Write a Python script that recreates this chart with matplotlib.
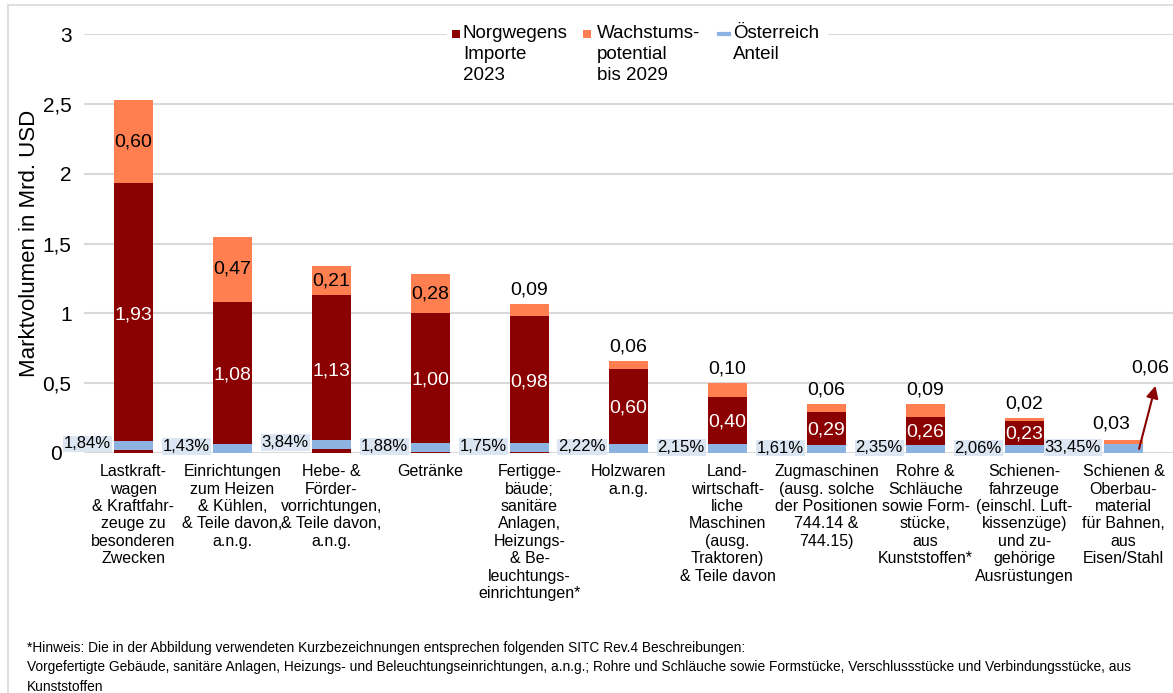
import matplotlib
matplotlib.use('Agg')
import matplotlib.pyplot as plt
from matplotlib.patches import Rectangle
from matplotlib.lines import Line2D
from matplotlib.transforms import ScaledTranslation
import numpy as np

plt.rcParams['font.family'] = ['Liberation Sans', 'DejaVu Sans']

# ============================================================
# DATA
# ============================================================
categories = [
    'Lastkraft-\nwagen\n& Kraftfahr-\nzeuge zu\nbesonderen\nZwecken',
    'Einrichtungen\nzum Heizen\n& Kühlen,\n& Teile davon,\na.n.g.',
    'Hebe- &\nFörder-\nvorrichtungen,\n& Teile davon,\na.n.g.',
    'Getränke',
    'Fertigge-\nbäude;\nsanitäre\nAnlagen,\nHeizungs-\n& Be-\nleuchtungs-\neinrichtungen*',
    'Holzwaren\na.n.g.',
    'Land-\nwirtschaft-\nliche\nMaschinen\n(ausg.\nTraktoren)\n& Teile davon',
    'Zugmaschinen\n(ausg. solche\nder Positionen\n744.14 &\n744.15)',
    'Rohre &\nSchläuche\nsowie Form-\nstücke,\naus\nKunststoffen*',
    'Schienen-\nfahrzeuge\n(einschl. Luft-\nkissenzüge)\nund zu-\ngehörige\nAusrüstungen',
    'Schienen &\nOberbau-\nmaterial\nfür Bahnen,\naus\nEisen/Stahl',
]
imports_2023 = [1.93, 1.08, 1.13, 1.00, 0.98, 0.60, 0.40, 0.29, 0.26, 0.23, 0.03]
growth_2029 = [0.60, 0.47, 0.21, 0.28, 0.09, 0.06, 0.10, 0.06, 0.09, 0.02, 0.06]
austria_share = [1.84, 1.43, 3.84, 1.88, 1.75, 2.22, 2.15, 1.61, 2.35, 2.06, 33.45]

yticks = [0, 0.5, 1, 1.5, 2, 2.5, 3]
ytick_labels = ['0', '0,5', '1', '1,5', '2', '2,5', '3']

legend_labels = ['Norgwegens\nImporte\n2023', 'Wachstums-\npotential\nbis 2029', 'Österreich\nAnteil']

footnote = ("*Hinweis: Die in der Abbildung verwendeten Kurzbezeichnungen entsprechen folgenden SITC Rev.4 Beschreibungen:\n"
            "Vorgefertigte Gebäude, sanitäre Anlagen, Heizungs- und Beleuchtungseinrichtungen, a.n.g.; Rohre und Schläuche sowie "
            "Formstücke, Verschlussstücke und Verbindungsstücke, aus\nKunststoffen")

C_RED = '#8b0000'
C_ORANGE = '#ff7f50'
C_BLUE = '#8db3e2'
C_LBLUE = '#dce6f2'

W, H = 1173, 693

def fmt(v):
    return f'{v:.2f}'.replace('.', ',')

def fx(px):
    return px / W

def fy(py):
    return 1 - py / H

# ============================================================
# FIGURE
# ============================================================
fig = plt.figure(figsize=(W / 100, H / 100), dpi=100)
ax = fig.add_axes([fx(84), fy(453), 1089 / W, 419 / H])

x = np.arange(len(categories))
imp = np.array(imports_2023)
gro = np.array(growth_2029)
aut_val = np.array(austria_share) / 100 * imp
w = 0.4
thick = 0.065

ax.bar(x, imp, w, color=C_RED, zorder=2)
ax.bar(x, gro, w, bottom=imp, color=C_ORANGE, zorder=2)
ax.bar(x, thick, w, bottom=aut_val - thick / 2 + 0.02, color=C_BLUE, zorder=3)

ax.set_xlim(-0.5, len(categories) - 0.5)
ax.set_ylim(0, 3)
ax.set_yticks(yticks)
ax.set_yticklabels(ytick_labels, fontsize=15)
ax.set_xticks(x)
ax.set_xticklabels(categories, fontsize=11.5, linespacing=1.2)
ax.tick_params(axis='both', length=0)
ax.tick_params(axis='x', pad=8)
ax.tick_params(axis='y', pad=9)
ax.grid(axis='y', color='#d9d9d9', linewidth=1.5, zorder=0)
for s in ax.spines.values():
    s.set_visible(False)
ax.set_ylabel('Marktvolumen in Mrd. USD', fontsize=16, labelpad=2)

# the "0" label sits a little further left, next to the first share box
zero_lab = ax.get_yticklabels()[0]
zero_lab.set_transform(zero_lab.get_transform() + ScaledTranslation(-10 / 100, 0, fig.dpi_scale_trans))

# value labels
for i in range(len(categories)):
    # imports
    if imp[i] >= 0.1:
        ax.text(x[i], imp[i] / 2 + 0.02, fmt(imp[i]), ha='center', va='center',
                color='white', fontsize=14, zorder=4)
    else:
        ax.text(x[i] - 0.12, 0.21, fmt(imp[i]), ha='center', va='center',
                color='black', fontsize=14, zorder=4)
    # growth
    if i == len(categories) - 1:
        ax.annotate('', xy=(x[i] + 0.33, 0.5), xytext=(x[i] + 0.15, 0.01),
                    arrowprops=dict(arrowstyle='-|>', color=C_RED, lw=1.5,
                                    mutation_scale=18), zorder=5)
        ax.text(x[i] + 0.27, 0.61, fmt(gro[i]), ha='center', va='center',
                fontsize=14, zorder=5, clip_on=False)
    elif gro[i] >= 0.2:
        ax.text(x[i], imp[i] + gro[i] / 2, fmt(gro[i]), ha='center', va='center',
                color='black', fontsize=14, zorder=4)
    else:
        ax.text(x[i], imp[i] + gro[i] + 0.1, fmt(gro[i]), ha='center', va='center',
                color='black', fontsize=14, zorder=4)
    # austria share
    ax.text(x[i] - w / 2 - 0.03, aut_val[i] + 0.03,
            f'{austria_share[i]:.2f}%'.replace('.', ','), ha='right', va='center',
            fontsize=12, zorder=4,
            bbox=dict(boxstyle='square,pad=0.05', facecolor=C_LBLUE, edgecolor='none'))

# legend (drawn by hand so the keys sit on the first text line)
fig.patches.append(Rectangle((fx(447), fy(46)), (828 - 447) / W, 24 / H,
                             transform=fig.transFigure, facecolor='white',
                             edgecolor='none', zorder=3))
key_x = [452, 583, 719]
txt_x = [463, 597, 733]
for k in range(3):
    if k < 2:
        col = C_RED if k == 0 else C_ORANGE
        fig.patches.append(Rectangle((fx(key_x[k]), fy(38)), 8 / W, 8 / H,
                                     transform=fig.transFigure, facecolor=col,
                                     edgecolor='none', zorder=4))
    else:
        fig.lines.append(Line2D([fx(key_x[k]), fx(key_x[k] + 10)], [fy(34), fy(34)],
                                transform=fig.transFigure, color=C_BLUE, lw=3, zorder=4))
    fig.text(fx(txt_x[k]), fy(25), legend_labels[k], ha='left', va='top',
             fontsize=13.5, linespacing=1.3, zorder=5)

# footnote
fig.text(fx(27), fy(641), footnote, fontsize=9.9, va='top', ha='left',
         family=['Liberation Sans Narrow', 'Liberation Sans'], linespacing=1.5)

# outer frame
fig.patches.append(Rectangle((fx(8), -0.01), 1.02, 1 - 5 / H + 0.01,
                             transform=fig.transFigure, fill=False,
                             edgecolor='#d9d9d9', linewidth=1.2))

fig.savefig('out.png', dpi=100)
